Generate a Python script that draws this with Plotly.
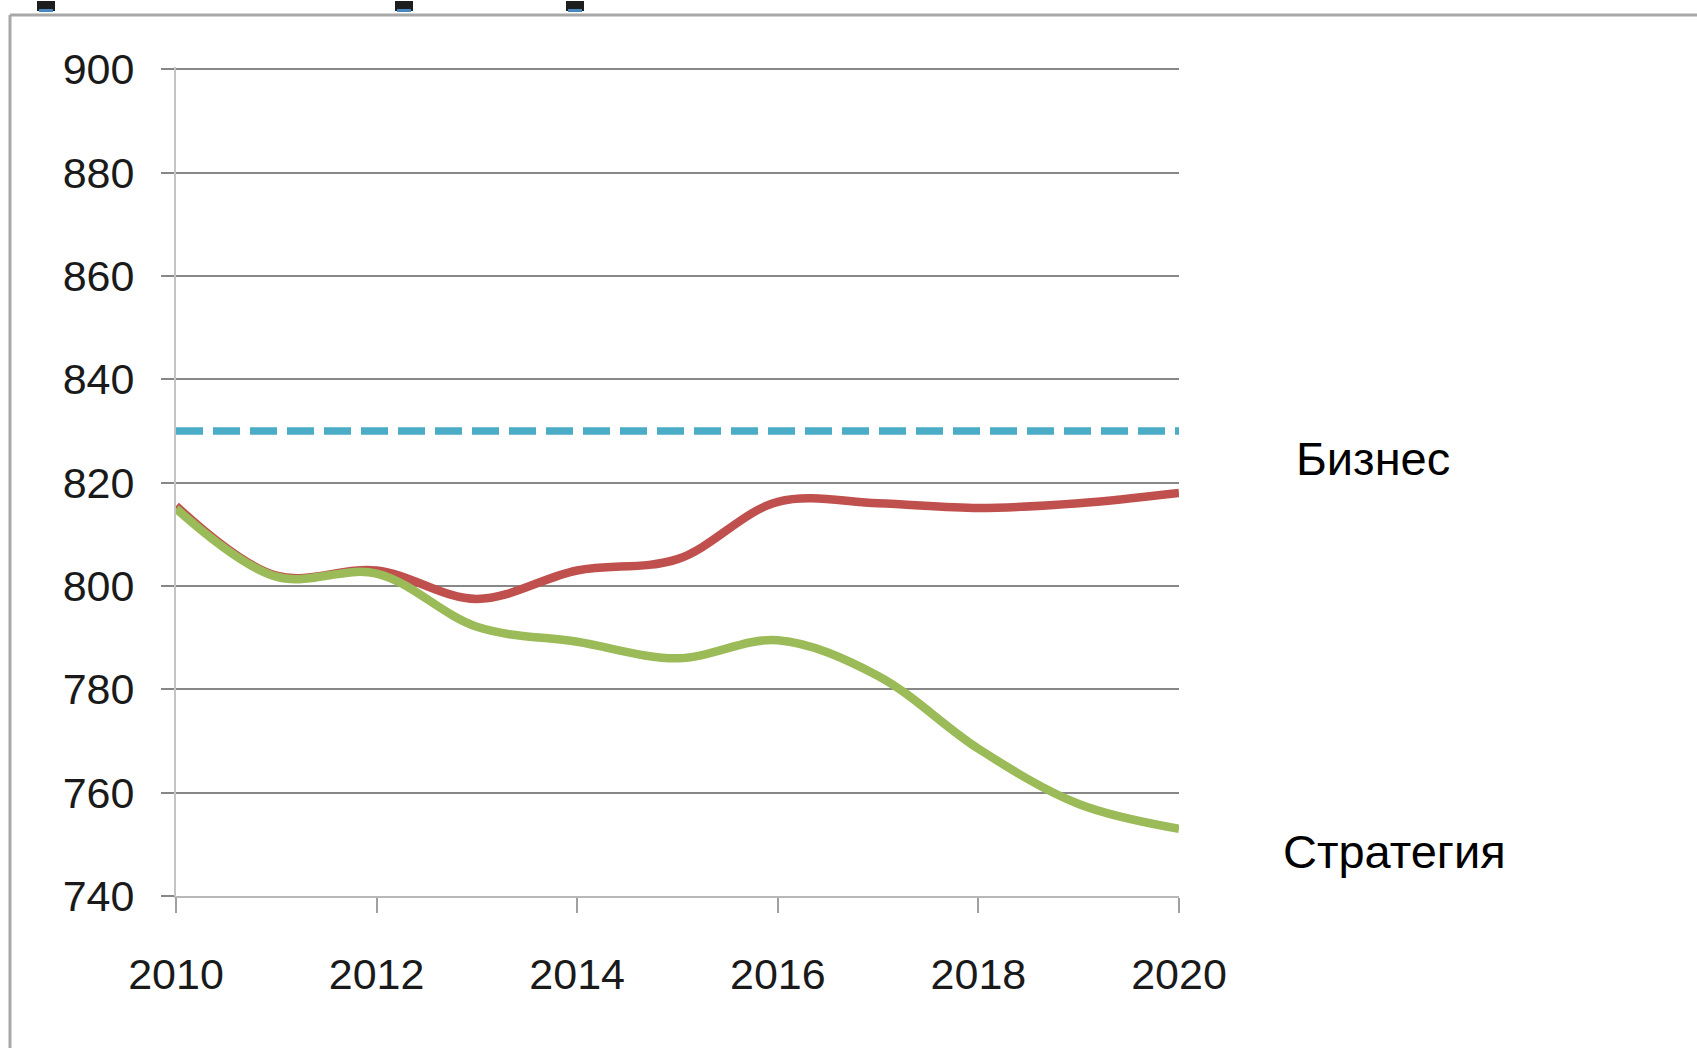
import plotly.graph_objects as go

years = [2010, 2011, 2012, 2013, 2014, 2015, 2016, 2017, 2018, 2019, 2020]
biznes = [815.5, 802.0, 803.0, 797.5, 803.0, 805.2, 816.3, 816.0, 815.1, 816.0, 818.0]
strategiya = [815.0, 801.8, 802.4, 792.1, 789.2, 786.0, 789.5, 782.6, 768.5, 757.8, 753.0]
target_years = [2010, 2020]
target = [830, 830]
label_biznes = "Бизнес"
label_strategiya = "Стратегия"
y_ticks = [740, 760, 780, 800, 820, 840, 860, 880, 900]
x_ticks = [2010, 2012, 2014, 2016, 2018, 2020]

W, H = 1697, 1048
L, R, T, B = 176, 1179, 67, 896


def px(xp):
    return (xp - L) / (R - L)


def py(yp):
    return (B - yp) / (B - T)


fig = go.Figure()
fig.add_trace(go.Scatter(x=target_years, y=target, mode="lines",
                         line=dict(color="#4BACC6", width=7.5, dash="27px,10px"),
                         hoverinfo="skip", showlegend=False))
fig.add_trace(go.Scatter(x=years, y=biznes, mode="lines", line_shape="spline",
                         line=dict(color="#C0504D", width=8.5, smoothing=1),
                         showlegend=False))
fig.add_trace(go.Scatter(x=years, y=strategiya, mode="lines", line_shape="spline",
                         line=dict(color="#9BBB59", width=8.5, smoothing=1),
                         showlegend=False))

tickfont = dict(family="Liberation Sans, Arial, sans-serif", size=43, color="#1a1a1a")

fig.update_xaxes(range=[2010, 2020], tickvals=x_ticks, ticktext=[str(v) for v in x_ticks],
                 showgrid=False, zeroline=False, showline=True, linecolor="#b8b8b8", linewidth=2,
                 ticks="outside", ticklen=15, tickwidth=1.5, tickcolor="#a0a0a0",
                 tickfont=tickfont, ticklabelstandoff=24)
fig.update_yaxes(range=[740, 900.45], tickvals=y_ticks, showgrid=True, gridcolor="#878787", gridwidth=2,
                 zeroline=False, showline=True, linecolor="#c4c4c4", linewidth=2,
                 ticks="outside", ticklen=13, tickwidth=2, tickcolor="#878787",
                 tickfont=tickfont, ticklabelstandoff=18)

shapes = [
    dict(type="line", xref="paper", yref="paper", x0=px(10), x1=px(W + 5), y0=py(15), y1=py(15),
         line=dict(color="#a8a8a8", width=3)),
    dict(type="line", xref="paper", yref="paper", x0=px(10), x1=px(10), y0=py(15), y1=py(H + 5),
         line=dict(color="#a8a8a8", width=3)),
]
for cx in [46, 404, 575]:
    shapes.append(dict(type="rect", xref="paper", yref="paper", x0=px(cx - 9), x1=px(cx + 9),
                       y0=py(11), y1=py(1), fillcolor="#1e1e1e", line=dict(width=0), layer="above"))
    shapes.append(dict(type="rect", xref="paper", yref="paper", x0=px(cx - 7), x1=px(cx + 7),
                       y0=py(12), y1=py(9), fillcolor="#4a86c0", line=dict(width=0), layer="above"))

labfont = dict(family="Liberation Sans, Arial, sans-serif", size=47, color="#000000")
annotations = [
    dict(text=label_biznes, xref="paper", yref="paper", x=px(1373), y=py(459),
         xanchor="center", yanchor="middle", showarrow=False, font=labfont),
    dict(text=label_strategiya, xref="paper", yref="paper", x=px(1394), y=py(851),
         xanchor="center", yanchor="middle", showarrow=False, font=labfont),
]

fig.update_layout(width=W, height=H, margin=dict(l=L, r=W - R, t=T, b=H - B, pad=0),
                  paper_bgcolor="white", plot_bgcolor="white",
                  shapes=shapes, annotations=annotations, showlegend=False)

fig.write_html("out.html", config={"displayModeBar": False},
               post_script="document.body.style.margin='0px';document.body.style.overflow='hidden';")
